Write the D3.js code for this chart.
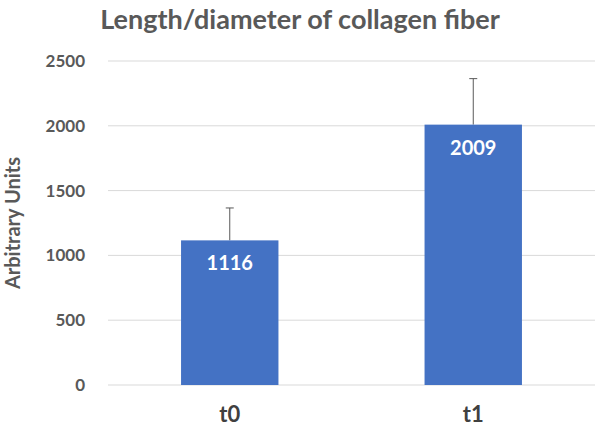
<!DOCTYPE html>
<html>
<head>
<meta charset="utf-8">
<script src="https://d3js.org/d3.v7.min.js"></script>
<style>
  body { margin: 0; background: #fff; }
  text { font-family: Lato, "Open Sans", sans-serif; font-weight: bold; }
</style>
</head>
<body>
<div id="chart"></div>
<script>
// data
var categories = ["t0", "t1"];
var values = [1116, 2009];
var errors = [250, 355];
var yTicks = [0, 500, 1000, 1500, 2000, 2500];

var width = 597, height = 431;
var margin = { top: 61, right: 2, bottom: 46, left: 108 };

var svg = d3.select("#chart").append("svg")
    .attr("width", width)
    .attr("height", height);

var x = d3.scaleBand()
    .domain(categories)
    .range([margin.left, width - margin.right])
    .paddingInner(0.6)
    .paddingOuter(0.3);

var y = d3.scaleLinear()
    .domain([0, 2500])
    .range([height - margin.bottom, margin.top]);

// gridlines
svg.append("g").selectAll("line")
    .data(yTicks)
    .enter().append("line")
    .attr("x1", margin.left)
    .attr("x2", width - margin.right)
    .attr("y1", function(d) { return y(d); })
    .attr("y2", function(d) { return y(d); })
    .attr("stroke", "#d9d9d9")
    .attr("stroke-width", 1);

// y tick labels
svg.append("g").selectAll("text")
    .data(yTicks)
    .enter().append("text")
    .attr("x", 85)
    .attr("y", function(d) { return y(d); })
    .attr("dy", "0.35em")
    .attr("text-anchor", "end")
    .attr("font-size", 17)
    .attr("fill", "#595959")
    .text(function(d) { return d; });

// error bars
var eb = svg.append("g").selectAll("g")
    .data(values)
    .enter().append("g");
eb.append("line")
    .attr("x1", function(d, i) { return x(categories[i]) + x.bandwidth() / 2; })
    .attr("x2", function(d, i) { return x(categories[i]) + x.bandwidth() / 2; })
    .attr("y1", function(d) { return y(d); })
    .attr("y2", function(d, i) { return y(d + errors[i]); })
    .attr("stroke", "#595959");
eb.append("line")
    .attr("x1", function(d, i) { return x(categories[i]) + x.bandwidth() / 2 - 4; })
    .attr("x2", function(d, i) { return x(categories[i]) + x.bandwidth() / 2 + 4; })
    .attr("y1", function(d, i) { return y(d + errors[i]); })
    .attr("y2", function(d, i) { return y(d + errors[i]); })
    .attr("stroke", "#595959");

// bars
svg.append("g").selectAll("rect")
    .data(values)
    .enter().append("rect")
    .attr("x", function(d, i) { return x(categories[i]); })
    .attr("y", function(d) { return y(d); })
    .attr("width", x.bandwidth())
    .attr("height", function(d) { return y(0) - y(d); })
    .attr("fill", "#4472c4");

// value labels
svg.append("g").selectAll("text")
    .data(values)
    .enter().append("text")
    .attr("x", function(d, i) { return x(categories[i]) + x.bandwidth() / 2; })
    .attr("y", function(d) { return y(d) + 30; })
    .attr("text-anchor", "middle")
    .attr("font-size", 20)
    .attr("fill", "#fff")
    .text(function(d) { return d; });

// category labels
svg.append("g").selectAll("text")
    .data(categories)
    .enter().append("text")
    .attr("x", function(d) { return x(d) + x.bandwidth() / 2; })
    .attr("y", 422)
    .attr("text-anchor", "middle")
    .attr("font-size", 22)
    .attr("fill", "#404040")
    .text(function(d) { return d; });

// title
svg.append("text")
    .attr("x", 300)
    .attr("y", 29)
    .attr("text-anchor", "middle")
    .attr("font-size", 27)
    .attr("fill", "#595959")
    .text("Length/diameter of collagen fiber");

// y axis title
svg.append("text")
    .attr("transform", "translate(20," + y(1250) + ") rotate(-90)")
    .attr("text-anchor", "middle")
    .attr("font-size", 20)
    .attr("fill", "#595959")
    .text("Arbitrary Units");
</script>
</body>
</html>
